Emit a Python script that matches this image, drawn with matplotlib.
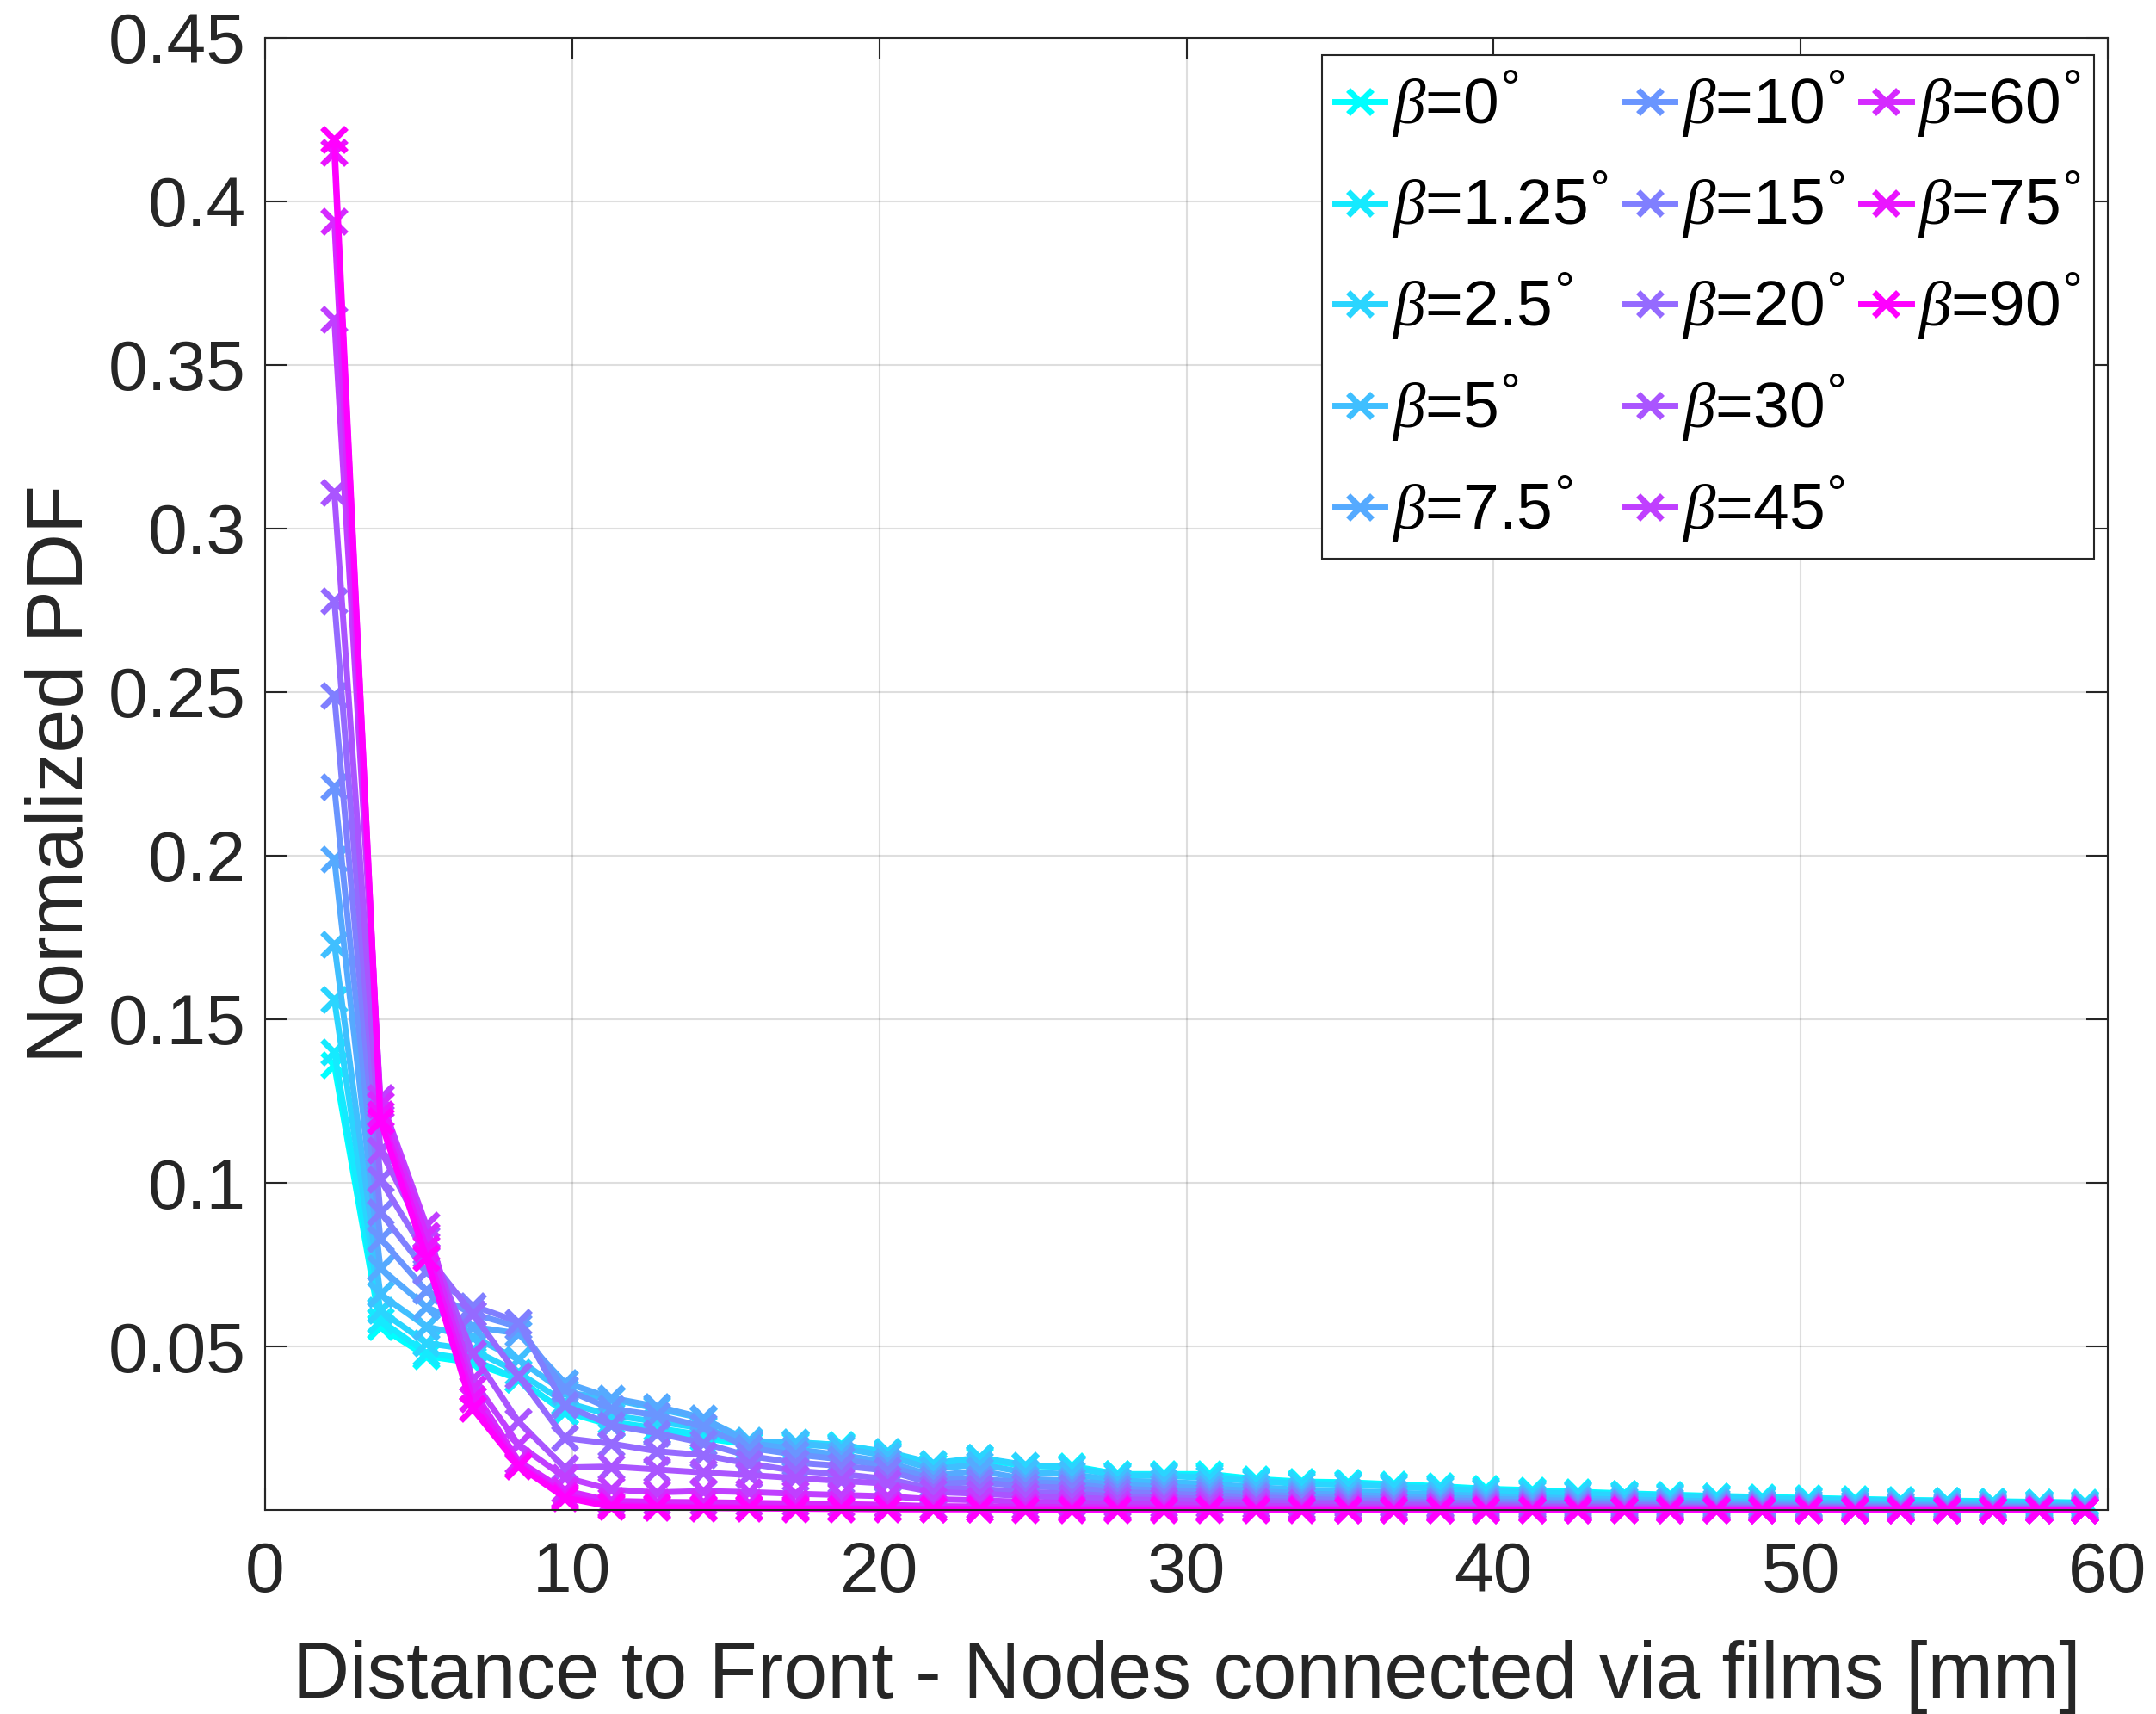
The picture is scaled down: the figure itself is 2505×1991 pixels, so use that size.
import numpy as np
import matplotlib
matplotlib.use("Agg")
import matplotlib.pyplot as plt
from matplotlib.lines import Line2D

plt.rcParams['font.family'] = ['Liberation Sans', 'DejaVu Sans']
plt.rcParams['mathtext.fontset'] = 'custom'
plt.rcParams['mathtext.it'] = 'Liberation Serif:italic'
plt.rcParams['mathtext.rm'] = 'Liberation Sans'
plt.rcParams['mathtext.sf'] = 'DejaVu Sans'

# distance to front, bin centres [mm]
dist = [2.25, 3.75, 5.25, 6.75, 8.25, 9.75, 11.25, 12.75, 14.25, 15.75,
        17.25, 18.75, 20.25, 21.75, 23.25, 24.75, 26.25, 27.75, 29.25, 30.75,
        32.25, 33.75, 35.25, 36.75, 38.25, 39.75, 41.25, 42.75, 44.25, 45.75,
        47.25, 48.75, 50.25, 51.75, 53.25, 54.75, 56.25, 57.75, 59.25]

betas = ['0', '1.25', '2.5', '5', '7.5', '10', '15', '20', '30', '45', '60', '75', '90']

# normalized PDF for each beta
pdf_b0 = [0.136, 0.056, 0.047, 0.045, 0.040, 0.030, 0.026, 0.024, 0.022, 0.020,
          0.0205, 0.020, 0.0175, 0.0135, 0.0155, 0.0135, 0.0135, 0.0110, 0.0110, 0.0110,
          0.0095, 0.0087, 0.0085, 0.0079, 0.0073, 0.0065, 0.0061, 0.0056, 0.0051, 0.0047,
          0.0043, 0.0040, 0.0037, 0.0034, 0.0031, 0.0029, 0.0027, 0.0025, 0.0023]
pdf_b1 = [0.140, 0.058, 0.048, 0.046, 0.040, 0.030, 0.027, 0.025, 0.023, 0.0205,
          0.020, 0.0195, 0.017, 0.0135, 0.0160, 0.0135, 0.0132, 0.0110, 0.0108, 0.0105,
          0.0092, 0.0084, 0.0082, 0.0076, 0.0070, 0.0062, 0.0058, 0.0053, 0.0049, 0.0045,
          0.0041, 0.0038, 0.0035, 0.0032, 0.0030, 0.0028, 0.0026, 0.0024, 0.0022]
pdf_b2 = [0.156, 0.061, 0.051, 0.049, 0.042, 0.033, 0.029, 0.027, 0.025, 0.021,
          0.0208, 0.0198, 0.0178, 0.0143, 0.0160, 0.0138, 0.0130, 0.0105, 0.0105, 0.0098,
          0.0088, 0.0080, 0.0077, 0.0071, 0.0065, 0.0058, 0.0054, 0.0049, 0.0045, 0.0041,
          0.0038, 0.0035, 0.0032, 0.0030, 0.0028, 0.0026, 0.0024, 0.0022, 0.0021]
pdf_b3 = [0.173, 0.066, 0.056, 0.053, 0.046, 0.036, 0.034, 0.031, 0.028, 0.0212,
          0.0205, 0.019, 0.0165, 0.0125, 0.0140, 0.0115, 0.0110, 0.0090, 0.0086, 0.0080,
          0.0070, 0.0062, 0.0058, 0.0053, 0.0048, 0.0043, 0.0039, 0.0035, 0.0032, 0.0029,
          0.0027, 0.0025, 0.0023, 0.0021, 0.0019, 0.0018, 0.0017, 0.0016, 0.0015]
pdf_b4 = [0.199, 0.074, 0.062, 0.056, 0.054, 0.039, 0.0343, 0.0317, 0.0282, 0.0205,
          0.0186, 0.0168, 0.0147, 0.0105, 0.0120, 0.0095, 0.0090, 0.0077, 0.0072, 0.0066,
          0.0058, 0.0051, 0.0046, 0.0042, 0.0038, 0.0034, 0.0031, 0.0028, 0.0025, 0.0023,
          0.0021, 0.0019, 0.0017, 0.0016, 0.0015, 0.0014, 0.0013, 0.0012, 0.0011]
pdf_b5 = [0.221, 0.083, 0.067, 0.060, 0.056, 0.037, 0.031, 0.029, 0.0255, 0.019,
          0.017, 0.0155, 0.0135, 0.0095, 0.0095, 0.0085, 0.0080, 0.0065, 0.0060, 0.0055,
          0.0048, 0.0042, 0.0037, 0.0033, 0.0030, 0.0027, 0.0024, 0.0022, 0.0020, 0.0018,
          0.0016, 0.0015, 0.0013, 0.0012, 0.0011, 0.0010, 0.0010, 0.0009, 0.0008]
pdf_b6 = [0.249, 0.091, 0.073, 0.0625, 0.0575, 0.032, 0.026, 0.0235, 0.0205, 0.0165,
          0.0145, 0.0135, 0.0121, 0.0080, 0.0085, 0.0072, 0.0068, 0.0055, 0.0050, 0.0045,
          0.0039, 0.0034, 0.0030, 0.0027, 0.0024, 0.0021, 0.0019, 0.0017, 0.0015, 0.0014,
          0.0012, 0.0011, 0.0010, 0.0009, 0.0008, 0.0008, 0.0007, 0.0006, 0.0006]
pdf_b7 = [0.278, 0.101, 0.078, 0.060, 0.041, 0.022, 0.0203, 0.018, 0.0168, 0.0142,
          0.0120, 0.0110, 0.0095, 0.0065, 0.0065, 0.0055, 0.0050, 0.0042, 0.0038, 0.0034,
          0.0029, 0.0025, 0.0022, 0.0019, 0.0017, 0.0015, 0.0013, 0.0012, 0.0010, 0.0009,
          0.0008, 0.0007, 0.0007, 0.0006, 0.0005, 0.0005, 0.0004, 0.0004, 0.0004]
pdf_b8 = [0.311, 0.110, 0.083, 0.048, 0.027, 0.013, 0.0133, 0.0124, 0.0115, 0.0107,
          0.0098, 0.0089, 0.0081, 0.0055, 0.0050, 0.0043, 0.0038, 0.0033, 0.0030, 0.0027,
          0.0023, 0.0020, 0.0017, 0.0015, 0.0013, 0.0011, 0.0010, 0.0009, 0.0008, 0.0007,
          0.0006, 0.0005, 0.0005, 0.0004, 0.0004, 0.0003, 0.0003, 0.0003, 0.0003]
pdf_b9 = [0.364, 0.126, 0.087, 0.040, 0.020, 0.010, 0.0063, 0.0054, 0.0058, 0.0055,
          0.0050, 0.0046, 0.0042, 0.0033, 0.0030, 0.0025, 0.0022, 0.0019, 0.0017, 0.0015,
          0.0013, 0.0011, 0.0009, 0.0008, 0.0007, 0.0006, 0.0005, 0.0005, 0.0004, 0.0004,
          0.0003, 0.0003, 0.0003, 0.0002, 0.0002, 0.0002, 0.0002, 0.0002, 0.0001]
pdf_b10 = [0.394, 0.124, 0.084, 0.037, 0.015, 0.006, 0.0028, 0.0025, 0.0024, 0.0022,
           0.0020, 0.0018, 0.0016, 0.0012, 0.0011, 0.0010, 0.0009, 0.0008, 0.0007, 0.0006,
           0.0005, 0.0005, 0.0004, 0.0004, 0.0003, 0.0003, 0.0003, 0.0002, 0.0002, 0.0002,
           0.0002, 0.0001, 0.0001, 0.0001, 0.0001, 0.0001, 0.0001, 0.0001, 0.0001]
pdf_b11 = [0.415, 0.121, 0.080, 0.034, 0.014, 0.0045, 0.0015, 0.0012, 0.0009, 0.0008,
           0.0007, 0.0006, 0.0005, 0.0004, 0.0004, 0.0003, 0.0003, 0.0002, 0.0002, 0.0002,
           0.0002, 0.0002, 0.0001, 0.0001, 0.0001, 0.0001, 0.0001, 0.0001, 0.0001, 0.0001,
           0.0001, 0.0001, 0.0001, 0.0000, 0.0000, 0.0000, 0.0000, 0.0000, 0.0000]
pdf_b12 = [0.419, 0.119, 0.077, 0.031, 0.0135, 0.0038, 0.0010, 0.0008, 0.0006, 0.0005,
           0.0004, 0.0003, 0.0002, 0.0002, 0.0002, 0.0001, 0.0001, 0.0001, 0.0001, 0.0001,
           0.0001, 0.0001, 0.0001, 0.0001, 0.0001, 0.0001, 0.0001, 0.0001, 0.0001, 0.0001,
           0.0001, 0.0001, 0.0001, 0.0001, 0.0001, 0.0001, 0.0001, 0.0001, 0.0001]

pdfs = [pdf_b0, pdf_b1, pdf_b2, pdf_b3, pdf_b4, pdf_b5, pdf_b6,
        pdf_b7, pdf_b8, pdf_b9, pdf_b10, pdf_b11, pdf_b12]

colores = plt.cm.cool(np.linspace(0, 1, len(betas)))

fig = plt.figure(figsize=(25.05, 19.91), dpi=100)
ax = fig.add_axes([0.123, 0.119, 0.8546, 0.859])

lineas = []
etiquetas = []
for k in range(len(betas)):
	l, = ax.plot(dist, pdfs[k], '-x', color=colores[k], lw=5, ms=20, mew=5, clip_on=False)
	lineas.append(l)
	# grado como superindice alto, igual que ^\circ en matlab
	etiquetas.append(r'$\beta$=$\mathregular{' + betas[k] + r'}^{\mathsf{°}}$')

ax.set_xlim(0, 60)
ax.set_ylim(0, 0.45)
ax.set_xticks([0, 10, 20, 30, 40, 50, 60])
ax.set_yticks([0.05, 0.1, 0.15, 0.2, 0.25, 0.3, 0.35, 0.4, 0.45])
ax.set_yticklabels(['0.05', '0.1', '0.15', '0.2', '0.25', '0.3', '0.35', '0.4', '0.45'])
ax.grid(True, color='#262626', alpha=0.15, lw=1.5)
ax.set_axisbelow(True)
ax.tick_params(direction='in', length=18, width=1.5, labelsize=59, colors='#262626',
               top=True, right=True, pad=16)
ax.tick_params(axis='x', pad=26)
for sp in ax.spines.values():
	sp.set_color('#262626')
	sp.set_linewidth(1.5)

ax.set_xlabel('Distance to Front - Nodes connected via films [mm]', fontsize=66, color='#262626', labelpad=28)
ax.set_ylabel('Normalized PDF', fontsize=66, color='#262626', labelpad=8)

# dos huecos vacios para que las columnas queden 5-5-3 como en matlab
vacio = Line2D([], [], linestyle='none')
leg = ax.legend(lineas + [vacio, vacio], etiquetas + ['', ''], ncol=3, loc='upper right',
                bbox_to_anchor=(0.9925, 0.988), borderaxespad=0, fontsize=54,
                handlelength=0.78, handletextpad=0.1, columnspacing=0.25, labelspacing=0.46,
                borderpad=0.2, fancybox=False, framealpha=1, edgecolor='#262626')
leg.get_frame().set_linewidth(1.5)

plt.savefig('out.png', dpi=100)
